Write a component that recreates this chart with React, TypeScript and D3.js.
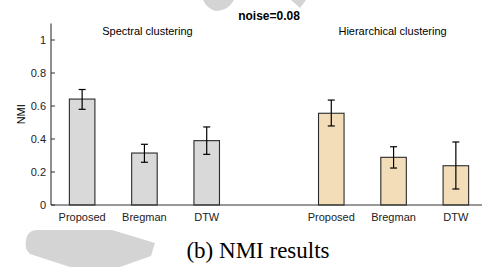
import React from 'react';
import * as d3 from 'd3';

const methods = ['Proposed', 'Bregman', 'DTW'];
const groups = ['Spectral clustering', 'Hierarchical clustering'];
const groupColors = ['#d9d9d9', '#f3ddb9'];

// mean NMI and error bar ends
const spectralMean = [0.642, 0.315, 0.39];
const spectralLow = [0.58, 0.259, 0.307];
const spectralHigh = [0.70, 0.368, 0.473];
const hierMean = [0.556, 0.289, 0.238];
const hierLow = [0.479, 0.224, 0.097];
const hierHigh = [0.636, 0.353, 0.382];

const yTicks = [0, 0.2, 0.4, 0.6, 0.8, 1];
const yTickLabels = ['0', '0.2', '0.4', '0.6', '0.8', '1'];

const width = 482;
const height = 267;
const sans = 'Arial, "Liberation Sans", Helvetica, sans-serif';

export default function App() {
  const x = d3.scaleLinear().domain([0.5, 7.5]).range([51, 487]);
  const y = d3.scaleLinear().domain([0, 1.1]).range([205, 23.5]);
  const barW = (x(1.41) - x(1));
  const cap = 3.5;

  const rows = [
    { mean: spectralMean, low: spectralLow, high: spectralHigh },
    { mean: hierMean, low: hierLow, high: hierHigh },
  ].flatMap((g, gi) =>
    methods.map((m, i) => ({
      pos: gi * 4 + i + 1,
      label: m,
      color: groupColors[gi],
      mean: g.mean[i],
      low: g.low[i],
      high: g.high[i],
    }))
  );

  return (
    <svg width={width} height={height} style={{ position: 'absolute', left: 0, top: 0, background: '#fff' }}>
      {/* faint watermark behind the figure */}
      <g fill="#d4d4d4">
        <path d="M26,240 Q27,231 36,230 L112,230 L155,243 L151,256 L120,267 L70,267 L30,254 Q24,249 26,240 Z" />
        <path d="M203,0 L234,0 Q228,11 216,11 Q207,9 203,0 Z" />
        <path d="M291,0 L306,0 L300,8 Z" />
      </g>

      <text x={x(4)} y={20} textAnchor="middle" fontFamily={sans} fontWeight="bold" fontSize={12}>
        noise=0.08
      </text>
      {groups.map((g, gi) => (
        <text key={g} x={x(gi * 4 + 2) + (gi === 0 ? 3 : -1)} y={35} textAnchor="middle" fontFamily={sans} fontSize={11}>
          {g}
        </text>
      ))}

      {rows.map((d) => (
        <g key={d.pos}>
          <rect x={x(d.pos) - barW / 2} y={y(d.mean)} width={barW} height={y(0) - y(d.mean)}
            fill={d.color} stroke="#2b2b2b" strokeWidth={1.1} />
          <line x1={x(d.pos)} x2={x(d.pos)} y1={y(d.low)} y2={y(d.high)} stroke="#000" strokeWidth={1.2} />
          <line x1={x(d.pos) - cap} x2={x(d.pos) + cap} y1={y(d.low)} y2={y(d.low)} stroke="#000" strokeWidth={1.2} />
          <line x1={x(d.pos) - cap} x2={x(d.pos) + cap} y1={y(d.high)} y2={y(d.high)} stroke="#000" strokeWidth={1.2} />
          <text x={x(d.pos)} y={221} textAnchor="middle" fontFamily={sans} fontSize={11} fill="#222">
            {d.label}
          </text>
        </g>
      ))}

      {/* axes */}
      <line x1={x(0.5)} x2={x(7.5)} y1={y(0)} y2={y(0)} stroke="#333" strokeWidth={1.1} />
      <line x1={x(0.5)} x2={x(0.5)} y1={y(0)} y2={y(1.1)} stroke="#333" strokeWidth={1.1} />
      {yTicks.map((t, i) => (
        <g key={t}>
          <line x1={x(0.5)} x2={x(0.5) + 4} y1={y(t)} y2={y(t)} stroke="#333" strokeWidth={1} />
          <text x={x(0.5) - 5} y={y(t)} dy="0.35em" textAnchor="end" fontFamily={sans} fontSize={11} fill="#222">
            {yTickLabels[i]}
          </text>
        </g>
      ))}
      <text transform={`translate(21,${y(0.55)}) rotate(-90)`} textAnchor="middle" dy="0.35em" fontFamily={sans} fontSize={11}>
        NMI
      </text>

      <text x={258} y={258} textAnchor="middle" fontFamily='"Liberation Serif", "Times New Roman", serif' fontSize={23}>
        (b) NMI results
      </text>
    </svg>
  );
}
